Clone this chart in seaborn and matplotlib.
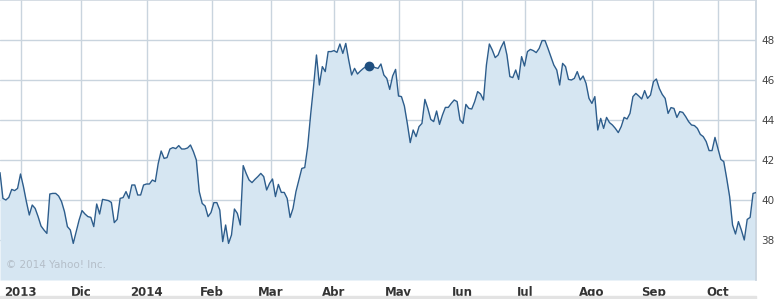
import numpy as np
import pandas as pd
import matplotlib
matplotlib.use("Agg")
import matplotlib.pyplot as plt
import seaborn as sns

# ---- data ----
start_date = "2013-10-23"
prices = [
    41.37, 40.08, 40.00, 40.13, 40.53, 40.47, 40.58, 41.30, 40.67, 39.92,
    39.25, 39.75, 39.58, 39.17, 38.70, 38.50, 38.33, 40.30, 40.33, 40.33,
    40.20, 39.92, 39.42, 38.67, 38.50, 37.83, 38.42, 39.00, 39.47, 39.30,
    39.17, 39.13, 38.67, 39.80, 39.30, 40.03, 40.00, 39.97, 39.88, 38.87,
    39.03, 40.08, 40.12, 40.42, 40.08, 40.75, 40.75, 40.25, 40.25, 40.75,
    40.80, 40.80, 41.00, 40.92, 41.83, 42.45, 42.08, 42.12, 42.55, 42.62,
    42.57, 42.72, 42.55, 42.55, 42.60, 42.75, 42.42, 42.00, 40.42, 39.83,
    39.70, 39.17, 39.37, 39.87, 39.87, 39.50, 37.92, 38.75, 37.83, 38.25,
    39.55, 39.33, 38.75, 41.72, 41.33, 41.00, 40.87, 41.03, 41.17, 41.33,
    41.17, 40.50, 40.83, 41.05, 40.17, 40.78, 40.38, 40.38, 40.08, 39.13,
    39.58, 40.42, 41.00, 41.58, 41.62, 42.67, 44.25, 45.67, 47.25, 45.75,
    46.67, 46.42, 47.42, 47.42, 47.47, 47.38, 47.80, 47.33, 47.83, 47.00,
    46.25, 46.58, 46.30, 46.45, 46.58, 46.68, 46.72, 46.70, 46.62, 46.58,
    46.80, 46.25, 46.08, 45.53, 46.20, 46.53, 45.20, 45.17, 44.70, 43.83,
    42.87, 43.50, 43.17, 43.67, 43.83, 45.03, 44.58, 44.03, 43.92, 44.45,
    43.78, 44.25, 44.63, 44.63, 44.83, 45.00, 44.92, 44.00, 43.83, 44.78,
    44.58, 44.55, 44.92, 45.42, 45.30, 45.00, 46.75, 47.80, 47.50, 47.12,
    47.25, 47.63, 47.92, 47.25, 46.17, 46.12, 46.50, 46.03, 47.17, 46.70,
    47.42, 47.53, 47.47, 47.37, 47.58, 47.97, 47.97, 47.58, 47.17, 46.75,
    46.50, 45.75, 46.83, 46.67, 46.03, 46.00, 46.08, 46.42, 46.00, 46.20,
    45.83, 45.08, 44.83, 45.17, 43.50, 44.08, 43.58, 44.13, 43.87, 43.75,
    43.58, 43.37, 43.67, 44.13, 44.05, 44.33, 45.17, 45.33, 45.20, 45.05,
    45.47, 45.08, 45.25, 45.92, 46.05, 45.58, 45.28, 45.08, 44.33, 44.62,
    44.58, 44.13, 44.42, 44.38, 44.17, 43.92, 43.75, 43.72, 43.58, 43.28,
    43.17, 42.92, 42.47, 42.47, 43.13, 42.58, 42.03, 41.92, 41.08, 40.17,
    38.75, 38.30, 38.92, 38.50, 38.00, 39.03, 39.13, 40.33, 40.37,
]
marker_index = 126
month_starts = ["2013-11-01", "2013-12-01", "2014-01-01", "2014-02-01",
                "2014-03-01", "2014-04-01", "2014-05-01", "2014-06-01",
                "2014-07-01", "2014-08-01", "2014-09-01", "2014-10-01"]
month_labels = ["2013", "Dic", "2014", "Feb", "Mar", "Abr", "May", "Jun",
                "Jul", "Ago", "Sep", "Oct"]
y_ticks = [38, 40, 42, 44, 46, 48]
y_min, y_max = 36, 50

# trading-day axis (evenly spaced sessions, like the original chart)
dates = pd.bdate_range(start=start_date, periods=len(prices))
df = pd.DataFrame({"session": np.arange(len(prices)), "date": dates, "price": prices})

date_num = dates.asi8.astype(float)
tick_pos = np.interp(pd.to_datetime(month_starts).asi8.astype(float), date_num, df["session"])

sns.set_theme(style="white")
plt.rcParams["font.family"] = ["DejaVu Sans"]

line_color = "#2d5d8c"
fill_color = "#d6e6f2"
grid_color = "#c9d4de"

fig = plt.figure(figsize=(7.77, 2.99), dpi=100)
ax = fig.add_axes([0.0, 1 - 280 / 299, 756 / 777, 280 / 299])

ax.fill_between(df["session"], df["price"], y_min, color=fill_color, linewidth=0, zorder=1)
sns.lineplot(data=df, x="session", y="price", ax=ax, color=line_color, linewidth=1.0, zorder=3)
ax.plot(df["session"].iloc[marker_index], df["price"].iloc[marker_index], "o",
        color="#1f4f7f", markersize=6, zorder=4)

ax.set_xlim(df["session"].iloc[0], df["session"].iloc[-1])
ax.set_ylim(y_min, y_max)

ax.set_xticks(tick_pos)
ax.set_xticklabels(month_labels, fontsize=8.5, fontweight="bold", color="#333333")
ax.set_yticks(y_ticks)
ax.set_yticklabels([str(v) for v in y_ticks], fontsize=7.5, color="#444444")
ax.yaxis.tick_right()
ax.tick_params(axis="both", length=0)
ax.tick_params(axis="x", pad=4)
ax.tick_params(axis="y", pad=4)

ax.grid(True, color=grid_color, linewidth=1, zorder=2)
for ln in ax.get_xgridlines() + ax.get_ygridlines():
    ln.set_zorder(2)

for side in ["left", "bottom"]:
    ax.spines[side].set_visible(False)
ax.spines["top"].set_color("#d0d8e0")
ax.spines["right"].set_color(grid_color)

ax.set_xlabel("")
ax.set_ylabel("")

ax.text(0.008, 0.035, "© 2014 Yahoo! Inc.", transform=ax.transAxes,
        fontsize=7.5, color="#b4bec8", ha="left", va="bottom", zorder=5)

# gray band at the bottom
fig.patches.append(matplotlib.patches.Rectangle((0, 0), 756 / 777, 3 / 299,
                   transform=fig.transFigure, color="#e3e3e3", zorder=0))

fig.savefig("out.png", dpi=100)
